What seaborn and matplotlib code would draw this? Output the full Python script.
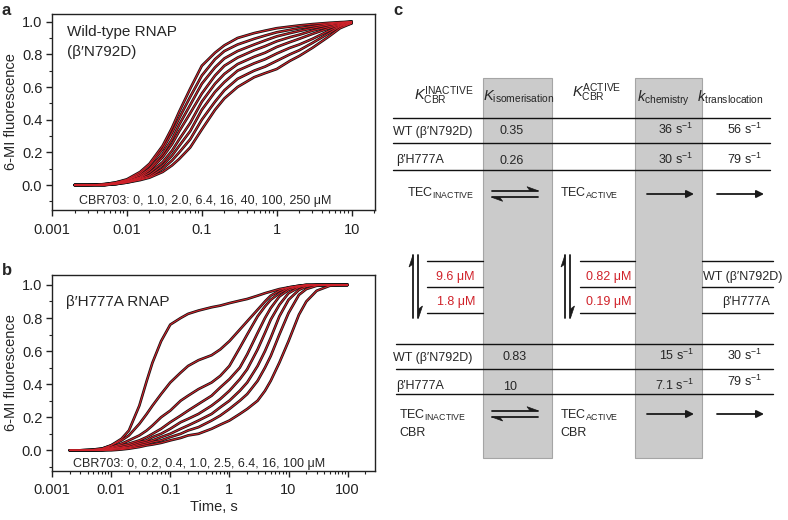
import numpy as np
import pandas as pd
import matplotlib
matplotlib.use('Agg')
import matplotlib.pyplot as plt
import seaborn as sns
from matplotlib.ticker import FixedLocator, LogLocator, NullFormatter, MultipleLocator, FixedFormatter
from matplotlib.patches import Rectangle, Polygon

# ---------------- data: panel a (wild-type RNAP) ----------------
time_a = [0.002, 0.003, 0.005, 0.007, 0.01, 0.015, 0.02, 0.03, 0.04, 0.05, 0.07, 0.1,
          0.15, 0.2, 0.3, 0.5, 0.7, 1, 1.5, 2, 3, 5, 7, 10]
conc_a = ['0', '1.0', '2.0', '6.4', '16', '40', '100', '250']
wt_0   = [0.0, 0.0, 0.005, 0.015, 0.035, 0.08, 0.13, 0.24, 0.35, 0.45, 0.59, 0.73,
          0.81, 0.855, 0.90, 0.93, 0.945, 0.96, 0.97, 0.977, 0.985, 0.993, 0.997, 1.0]
wt_1   = [0.0, 0.0, 0.005, 0.015, 0.03, 0.07, 0.12, 0.22, 0.32, 0.41, 0.54, 0.67,
          0.77, 0.82, 0.86, 0.895, 0.915, 0.935, 0.95, 0.96, 0.972, 0.987, 0.994, 1.0]
wt_2   = [0.0, 0.0, 0.005, 0.01, 0.03, 0.06, 0.10, 0.19, 0.28, 0.37, 0.49, 0.62,
          0.72, 0.775, 0.82, 0.86, 0.885, 0.91, 0.93, 0.943, 0.96, 0.98, 0.99, 1.0]
wt_6   = [0.0, 0.0, 0.0, 0.01, 0.025, 0.05, 0.09, 0.17, 0.25, 0.33, 0.44, 0.56,
          0.67, 0.73, 0.78, 0.825, 0.85, 0.88, 0.905, 0.92, 0.945, 0.97, 0.985, 1.0]
wt_16  = [0.0, 0.0, 0.0, 0.01, 0.02, 0.045, 0.075, 0.14, 0.21, 0.28, 0.38, 0.51,
          0.62, 0.68, 0.74, 0.785, 0.81, 0.845, 0.875, 0.895, 0.925, 0.96, 0.98, 0.995]
wt_40  = [0.0, 0.0, 0.0, 0.005, 0.02, 0.04, 0.06, 0.12, 0.18, 0.24, 0.33, 0.46,
          0.57, 0.63, 0.70, 0.745, 0.77, 0.805, 0.84, 0.86, 0.895, 0.945, 0.975, 0.995]
wt_100 = [0.0, 0.0, 0.0, 0.005, 0.015, 0.035, 0.05, 0.10, 0.15, 0.20, 0.28, 0.40,
          0.51, 0.58, 0.65, 0.70, 0.725, 0.76, 0.80, 0.825, 0.87, 0.93, 0.97, 0.99]
wt_250 = [0.0, 0.0, 0.0, 0.005, 0.015, 0.03, 0.045, 0.08, 0.12, 0.16, 0.23, 0.34,
          0.46, 0.53, 0.60, 0.66, 0.685, 0.71, 0.76, 0.79, 0.84, 0.91, 0.96, 0.99]

# ---------------- data: panel b (beta' H777A RNAP) ----------------
time_b = [0.002, 0.003, 0.005, 0.007, 0.01, 0.015, 0.02, 0.03, 0.04, 0.05, 0.07, 0.1,
          0.15, 0.2, 0.3, 0.5, 0.7, 1, 1.5, 2, 3, 4, 5, 7, 10, 15, 20, 30, 50, 100]
conc_b = ['0', '0.2', '0.4', '1.0', '2.5', '6.4', '16', '100']
mut_0   = [0.0, 0.0, 0.005, 0.01, 0.03, 0.07, 0.12, 0.27, 0.42, 0.53, 0.66, 0.76,
           0.80, 0.825, 0.845, 0.865, 0.875, 0.89, 0.905, 0.915, 0.935, 0.95, 0.96, 0.975,
           0.985, 0.995, 1.0, 1.0, 1.0, 1.0]
mut_02  = [0.0, 0.0, 0.005, 0.01, 0.03, 0.06, 0.09, 0.16, 0.22, 0.27, 0.34, 0.41,
           0.47, 0.51, 0.545, 0.575, 0.61, 0.66, 0.73, 0.78, 0.85, 0.90, 0.935, 0.965,
           0.985, 0.995, 1.0, 1.0, 1.0, 1.0]
mut_04  = [0.0, 0.0, 0.0, 0.01, 0.02, 0.04, 0.06, 0.09, 0.12, 0.15, 0.20, 0.24,
           0.30, 0.33, 0.37, 0.41, 0.45, 0.51, 0.62, 0.70, 0.81, 0.87, 0.91, 0.95,
           0.98, 0.993, 1.0, 1.0, 1.0, 1.0]
mut_1   = [0.0, 0.0, 0.0, 0.005, 0.015, 0.03, 0.04, 0.06, 0.08, 0.10, 0.13, 0.17,
           0.21, 0.24, 0.28, 0.33, 0.38, 0.43, 0.50, 0.58, 0.71, 0.80, 0.86, 0.93,
           0.97, 0.99, 0.997, 1.0, 1.0, 1.0]
mut_25  = [0.0, 0.0, 0.0, 0.005, 0.01, 0.02, 0.03, 0.05, 0.06, 0.08, 0.10, 0.13,
           0.17, 0.19, 0.22, 0.27, 0.31, 0.36, 0.43, 0.49, 0.61, 0.71, 0.79, 0.88,
           0.95, 0.985, 0.995, 1.0, 1.0, 1.0]
mut_64  = [0.0, 0.0, 0.0, 0.0, 0.01, 0.015, 0.02, 0.04, 0.05, 0.06, 0.08, 0.10,
           0.13, 0.15, 0.18, 0.22, 0.26, 0.30, 0.36, 0.41, 0.51, 0.60, 0.68, 0.81,
           0.91, 0.97, 0.99, 1.0, 1.0, 1.0]
mut_16  = [0.0, 0.0, 0.0, 0.0, 0.005, 0.01, 0.015, 0.03, 0.04, 0.05, 0.06, 0.08,
           0.10, 0.12, 0.14, 0.18, 0.21, 0.25, 0.30, 0.34, 0.42, 0.50, 0.57, 0.70,
           0.83, 0.94, 0.975, 0.995, 1.0, 1.0]
mut_100 = [0.0, 0.0, 0.0, 0.0, 0.0, 0.005, 0.01, 0.02, 0.03, 0.035, 0.045, 0.06,
           0.075, 0.09, 0.10, 0.13, 0.155, 0.18, 0.22, 0.25, 0.30, 0.36, 0.42, 0.53,
           0.66, 0.82, 0.90, 0.965, 0.995, 1.0]

x_ticks_a = [0.001, 0.01, 0.1, 1, 10]
x_labels_a = ['0.001', '0.01', '0.1', '1', '10']
x_ticks_b = [0.001, 0.01, 0.1, 1, 10, 100]
x_labels_b = ['0.001', '0.01', '0.1', '1', '10', '100']
y_ticks = [0.0, 0.2, 0.4, 0.6, 0.8, 1.0]
y_labels = ['0.0', '0.2', '0.4', '0.6', '0.8', '1.0']

# panel c table content
rows = ['WT (β′N792D)', 'β′H777A']
k_iso_free = ['0.35', '0.26']
k_chem_free = ['36', '30']
k_trans_free = ['56', '79']
kd_inactive = ['9.6 μM', '1.8 μM']
kd_active = ['0.82 μM', '0.19 μM']
k_iso_cbr = ['0.83', '10']
k_chem_cbr = ['15', '7.1']
k_trans_cbr = ['30', '79']

# ---------------- styling ----------------
sns.set_theme(style='ticks')
plt.rcParams['font.family'] = ['Liberation Sans', 'DejaVu Sans']
plt.rcParams['mathtext.fontset'] = 'custom'
plt.rcParams['mathtext.rm'] = 'Liberation Sans'
plt.rcParams['mathtext.it'] = 'Liberation Sans:italic'
plt.rcParams['mathtext.bf'] = 'Liberation Sans:bold'

RED = '#d0222a'
W, H = 788, 520
fig = plt.figure(figsize=(W / 100, H / 100), dpi=100)


def add_px_axes(x0, y0, x1, y1):
    return fig.add_axes([x0 / W, 1 - y1 / H, (x1 - x0) / W, (y1 - y0) / H])


def long_df(times, concs, series):
    frames = []
    for c, s in zip(concs, series):
        frames.append(pd.DataFrame({'t': times, 'f': s, 'conc': c}))
    return pd.concat(frames, ignore_index=True)


def style_axes(ax, xlim, ylim, xt, xl):
    ax.set_xscale('log')
    ax.set_xlim(*xlim)
    ax.set_ylim(*ylim)
    ax.xaxis.set_major_locator(FixedLocator(xt))
    ax.xaxis.set_major_formatter(FixedFormatter(xl))
    ax.xaxis.set_minor_locator(LogLocator(base=10, subs=np.arange(2, 10), numticks=20))
    ax.xaxis.set_minor_formatter(NullFormatter())
    ax.yaxis.set_major_locator(FixedLocator(y_ticks))
    ax.yaxis.set_major_formatter(FixedFormatter(y_labels))
    ax.yaxis.set_minor_locator(MultipleLocator(0.1))
    ax.tick_params(which='major', direction='out', length=4, width=1, labelsize=10.5,
                   colors='#222222', pad=3)
    ax.tick_params(which='minor', direction='out', length=2.2, width=0.8, colors='#222222')
    ax.tick_params(axis='x', which='major', pad=5)
    for sp in ax.spines.values():
        sp.set_visible(True)
        sp.set_linewidth(1.0)
        sp.set_color('#222222')
    ax.set_xlabel('')
    ax.set_ylabel('6-MI fluorescence', fontsize=10.5, labelpad=3)


def draw_curves(ax, df):
    sns.lineplot(data=df, x='t', y='f', hue='conc', palette=['#111111'] * 8, legend=False,
                 lw=1.9, ax=ax, sort=False)
    sns.lineplot(data=df, x='t', y='f', hue='conc', palette=[RED] * 8, legend=False,
                 lw=0.8, ax=ax, sort=False)


# ---------------- panel a ----------------
axa = add_px_axes(52, 14, 375, 210)
dfa = long_df(time_a, conc_a, [wt_0, wt_1, wt_2, wt_6, wt_16, wt_40, wt_100, wt_250])
draw_curves(axa, dfa)
style_axes(axa, (0.001, 20.5), (-0.153, 1.047), x_ticks_a, x_labels_a)
axa.text(0.0016, 0.935, 'Wild-type RNAP', fontsize=11, va='center', ha='left')
axa.text(0.0016, 0.815, '(β′N792D)', fontsize=11, va='center', ha='left')
axa.text(0.0023, -0.095, 'CBR703: 0, 1.0, 2.0, 6.4, 16, 40, 100, 250 μM', fontsize=9,
         va='center', ha='left')

# ---------------- panel b ----------------
axb = add_px_axes(52, 275, 375, 471)
dfb = long_df(time_b, conc_b, [mut_0, mut_02, mut_04, mut_1, mut_25, mut_64, mut_16, mut_100])
draw_curves(axb, dfb)
style_axes(axb, (0.001, 290), (-0.125, 1.06), x_ticks_b, x_labels_b)
axb.set_xlabel('Time, s', fontsize=10.5, labelpad=2)
axb.text(0.0017, 0.895, 'β′H777A RNAP', fontsize=11, va='center', ha='left')
axb.text(0.0023, -0.08, 'CBR703: 0, 0.2, 0.4, 1.0, 2.5, 6.4, 16, 100 μM', fontsize=9,
         va='center', ha='left')

fig.text(2 / W, 1 - 3 / H, 'a', fontsize=12, fontweight='bold', va='top', ha='left')
fig.text(2 / W, 1 - 263 / H, 'b', fontsize=12, fontweight='bold', va='top', ha='left')

# ---------------- panel c ----------------
axc = add_px_axes(360, 0, 788, 520)
axc.set_xlim(360, 788)
axc.set_ylim(520, 0)
axc.axis('off')
axc.text(393, 3, 'c', fontsize=12, fontweight='bold', va='top', ha='left')

for x0, x1 in [(482.7, 552), (635.3, 701.7)]:
    axc.add_patch(Rectangle((x0, 78.3), x1 - x0, 458.3 - 78.3, facecolor='#cbcbcb',
                            edgecolor='#a5a5a5', lw=0.8, zorder=0))

for y in [118.3, 143.3, 170]:
    axc.plot([393, 770], [y, y], color='#111111', lw=1.0, zorder=2)
for y in [344, 369, 394]:
    axc.plot([396, 773], [y, y], color='#111111', lw=1.0, zorder=2)
for y in [260.7, 286.7, 312.7]:
    axc.plot([426.7, 482.7], [y, y], color='#111111', lw=1.0, zorder=2)
    axc.plot([580, 635.3], [y, y], color='#111111', lw=1.0, zorder=2)
    axc.plot([701.7, 773], [y, y], color='#111111', lw=1.0, zorder=2)

TS = 9
# headers
axc.text(414, 100, r'$K^{\mathrm{INACTIVE}}_{\mathrm{CBR}}$', fontsize=10.5, va='baseline', ha='left')
axc.text(483, 101, r'$K_{\mathrm{isomerisation}}$', fontsize=10.5, va='baseline', ha='left')
axc.text(572, 97, r'$K^{\mathrm{ACTIVE}}_{\mathrm{CBR}}$', fontsize=10.5, va='baseline', ha='left')
axc.text(637, 102, r'$k_{\mathrm{chemistry}}$', fontsize=10.5, va='baseline', ha='left')
axc.text(697, 102, r'$k_{\mathrm{translocation}}$', fontsize=10.5, va='baseline', ha='left')

# upper rows (free enzyme)
for i, yb in enumerate([134.5, 163.5]):
    axc.text(393 if i == 0 else 396, yb, rows[i], fontsize=TS, va='baseline', ha='left')
    axc.text(500, yb, k_iso_free[i], fontsize=TS, va='baseline', ha='left')
    axc.text(693, yb, k_chem_free[i] + r' s$^{-1}$', fontsize=TS, va='baseline', ha='right')
    axc.text(762, yb, k_trans_free[i] + r' s$^{-1}$', fontsize=TS, va='baseline', ha='right')

# lower rows (CBR-bound)
for i, yb in enumerate([360.5, 389.5]):
    axc.text(393 if i == 0 else 396, yb, rows[i], fontsize=TS, va='baseline', ha='left')
    axc.text(502.7, yb, k_iso_cbr[i], fontsize=TS, va='baseline', ha='left')
    axc.text(694, yb, k_chem_cbr[i] + r' s$^{-1}$', fontsize=TS, va='baseline', ha='right')
    axc.text(762, yb - (3 if i == 1 else 0), k_trans_cbr[i] + r' s$^{-1}$', fontsize=TS,
             va='baseline', ha='right')

# dissociation constants
for i, yb in enumerate([280, 305]):
    axc.text(475, yb, kd_inactive[i], fontsize=TS, color=RED, va='baseline', ha='right')
    axc.text(631.7, yb, kd_active[i], fontsize=TS, color=RED, va='baseline', ha='right')
axc.text(703, 280, rows[0], fontsize=TS, va='baseline', ha='left')
axc.text(770.5, 305, rows[1], fontsize=TS, va='baseline', ha='right')

# species labels
axc.text(406.7, 197, r'$\mathrm{TEC}_{\mathrm{INACTIVE}}$', fontsize=TS, va='baseline', ha='left')
axc.text(560, 197, r'$\mathrm{TEC}_{\mathrm{ACTIVE}}$', fontsize=TS, va='baseline', ha='left')
axc.text(399.3, 419, r'$\mathrm{TEC}_{\mathrm{INACTIVE}}$', fontsize=TS, va='baseline', ha='left')
axc.text(399.3, 435.5, 'CBR', fontsize=TS, va='baseline', ha='left')
axc.text(560, 419, r'$\mathrm{TEC}_{\mathrm{ACTIVE}}$', fontsize=TS, va='baseline', ha='left')
axc.text(560, 435.5, 'CBR', fontsize=TS, va='baseline', ha='left')


def eq_arrows_h(x0, x1, ya, yb):
    axc.plot([x0, x1], [ya, ya], color='k', lw=1.3)
    axc.add_patch(Polygon([(x1, ya), (x1 - 11, ya - 4), (x1 - 8, ya)], closed=True, color='k', lw=0.5))
    axc.plot([x0, x1], [yb, yb], color='k', lw=1.3)
    axc.add_patch(Polygon([(x0, yb), (x0 + 11, yb + 4), (x0 + 8, yb)], closed=True, color='k', lw=0.5))


def eq_arrows_v(xa, xb, y0, y1):
    axc.plot([xa, xa], [y0, y1], color='k', lw=1.3)
    axc.add_patch(Polygon([(xa, y0), (xa - 4, y0 + 12), (xa, y0 + 9)], closed=True, color='k', lw=0.5))
    axc.plot([xb, xb], [y0, y1], color='k', lw=1.3)
    axc.add_patch(Polygon([(xb, y1), (xb + 4, y1 - 12), (xb, y1 - 9)], closed=True, color='k', lw=0.5))


def arrow(x0, x1, y):
    axc.annotate('', xy=(x1, y), xytext=(x0, y),
                 arrowprops=dict(arrowstyle='-|>', color='k', lw=1.3, mutation_scale=11,
                                 shrinkA=0, shrinkB=0))


eq_arrows_h(491.7, 538, 190.7, 197.3)
eq_arrows_h(491.7, 538, 410.7, 417)
eq_arrows_v(413, 418.5, 255, 318)
eq_arrows_v(565, 570.5, 255, 318)
for y in [194, 414]:
    arrow(647, 694, y)
    arrow(717, 764, y)

fig.savefig('out.png', dpi=100)
